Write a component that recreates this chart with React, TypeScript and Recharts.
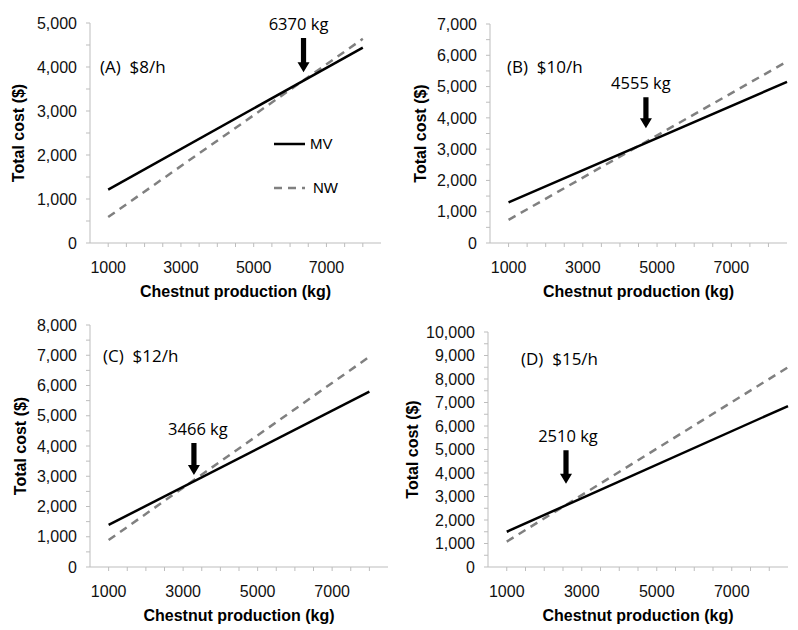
import React from 'react'
import { LineChart, Line, XAxis, YAxis, ReferenceLine, Legend } from 'recharts'

// production (kg) at the two ends of each line, per panel
const xA = [1000, 8000]
const xB = [1000, 8500]
const xC = [1000, 8000]
const xD = [1000, 8500]

// total cost ($) for MV and NW in each wage scenario
const mvA = [1215, 4440]
const nwA = [590, 4640]
const mvB = [1300, 5150]
const nwB = [740, 5800]
const mvC = [1390, 5800]
const nwC = [890, 6950]
const mvD = [1500, 6850]
const nwD = [1080, 8500]

const panelTitles = ['(A)  $8/h', '(B)  $10/h', '(C)  $12/h', '(D)  $15/h']
const yMaxes = [5000, 7000, 8000, 10000]

// break-even annotations: label, arrow x, arrow top / tip (in $)
const crossLabels = ['6370 kg', '4555 kg', '3466 kg', '2510 kg']
const arrowX = [6370, 4700, 3290, 2580]
const arrowTop = [4660, 4660, 4100, 4970]
const arrowTip = [3880, 3670, 3040, 3540]

const xTicks = [1000, 1500, 2000, 2500, 3000, 3500, 4000, 4500, 5000, 5500, 6000, 6500, 7000, 7500, 8000]
const xLabels = [1000, 3000, 5000, 7000]

const sans = '"Liberation Sans", Arial, sans-serif'
const calibriLike = '"Open Sans", "Noto Sans", sans-serif'
const axisGrey = '#bdbdbd'

const halfSteps = (max: number) => {
  const out: number[] = []
  for (let v = 0; v <= max; v += 500) out.push(v)
  return out
}

const layouts = [
  { left: 0, top: 0, width: 400, height: 310, margin: { top: 23, right: 19, left: 0, bottom: 13 }, yWidth: 90, titleOffset: 18, label: { left: 100, top: 57 }, textDx: -5 },
  { left: 400, top: 0, width: 398, height: 310, margin: { top: 24, right: 11, left: 0, bottom: 13 }, yWidth: 90, titleOffset: 20, label: { left: 107, top: 57 }, textDx: -5 },
  { left: 0, top: 310, width: 400, height: 320, margin: { top: 15, right: 12, left: 0, bottom: 9 }, yWidth: 90, titleOffset: 20, label: { left: 103, top: 36 }, textDx: 4 },
  { left: 400, top: 310, width: 398, height: 320, margin: { top: 22, right: 10, left: 0, bottom: 9 }, yWidth: 88, titleOffset: 12, label: { left: 121, top: 39 }, textDx: 2 },
]

const series = [
  [xA, mvA, nwA],
  [xB, mvB, nwB],
  [xC, mvC, nwC],
  [xD, mvD, nwD],
]

function arrowShape(text: string, dx: number) {
  return (p: any) => {
    const x = p.x1
    const y1 = Math.min(p.y1, p.y2)
    const y2 = Math.max(p.y1, p.y2)
    const sw = 2.6
    const hw = 6
    const hh = 10
    const pts = [
      [x - sw, y1], [x + sw, y1], [x + sw, y2 - hh], [x + hw, y2 - hh],
      [x, y2], [x - hw, y2 - hh], [x - sw, y2 - hh],
    ].map((q) => q.join(',')).join(' ')
    return (
      <g>
        <polygon points={pts} fill="#000" />
        <text x={x + dx} y={y1 - 8} textAnchor="middle" fontFamily={calibriLike} fontSize={16.5} fill="#000">
          {text}
        </text>
      </g>
    )
  }
}

const LegendBox = () => (
  <div style={{ fontFamily: sans, fontSize: 15, color: '#000', lineHeight: '20px' }}>
    <div style={{ display: 'flex', alignItems: 'center', height: 20 }}>
      <svg width={31} height={6}>
        <line x1={0} y1={3} x2={31} y2={3} stroke="#000" strokeWidth={2.5} />
      </svg>
      <span style={{ marginLeft: 5 }}>MV</span>
    </div>
    <div style={{ display: 'flex', alignItems: 'center', height: 20, marginTop: 24 }}>
      <svg width={31} height={6}>
        <line x1={0} y1={3} x2={31} y2={3} stroke="#808080" strokeWidth={2.5} strokeDasharray="8 6" />
      </svg>
      <span style={{ marginLeft: 8 }}>NW</span>
    </div>
  </div>
)

function Panel({ idx }: { idx: number }) {
  const lay = layouts[idx]
  const [xs, mv, nw] = series[idx]
  const data = xs.map((x, i) => ({ x, mv: mv[i], nw: nw[i] }))
  const yMax = yMaxes[idx]
  const tickStyle = { fontFamily: sans, fontSize: 16, fill: '#111' }
  const titleStyle = { fontFamily: sans, fontSize: 16, fontWeight: 700, fill: '#000' }

  return (
    <div style={{ position: 'absolute', left: lay.left, top: lay.top, width: lay.width, height: lay.height }}>
      <LineChart width={lay.width} height={lay.height} data={data} margin={lay.margin}>
        <XAxis
          dataKey="x"
          type="number"
          domain={[500, 8500]}
          ticks={xTicks}
          interval={0}
          tickFormatter={(v: number) => (xLabels.includes(v) ? String(v) : '')}
          tick={tickStyle}
          tickSize={4}
          tickMargin={15}
          stroke={axisGrey}
          height={54}
          label={{ value: 'Chestnut production (kg)', position: 'insideBottom', offset: 0, style: titleStyle }}
        />
        <YAxis
          type="number"
          domain={[0, yMax]}
          ticks={halfSteps(yMax)}
          interval={0}
          tickFormatter={(v: number) => (v % 1000 === 0 ? v.toLocaleString('en-US') : '')}
          tick={tickStyle}
          tickSize={4}
          tickMargin={9}
          stroke={axisGrey}
          width={lay.yWidth}
          label={{
            value: 'Total cost ($)',
            angle: -90,
            position: 'insideLeft',
            offset: lay.titleOffset,
            style: { ...titleStyle, textAnchor: 'middle' },
          }}
        />
        <Line dataKey="nw" stroke="#808080" strokeWidth={2.5} strokeDasharray="8 6" dot={false} isAnimationActive={false} />
        <Line dataKey="mv" stroke="#000" strokeWidth={2.5} dot={false} isAnimationActive={false} />
        <ReferenceLine
          segment={[
            { x: arrowX[idx], y: arrowTop[idx] },
            { x: arrowX[idx], y: arrowTip[idx] },
          ]}
          ifOverflow="visible"
          shape={arrowShape(crossLabels[idx], lay.textDx)}
        />
        {idx === 0 && (
          <Legend
            layout="vertical"
            align="center"
            verticalAlign="middle"
            content={<LegendBox />}
            wrapperStyle={{ left: 274, top: 134, width: 80 }}
          />
        )}
      </LineChart>
      <div
        style={{
          position: 'absolute',
          left: lay.label.left,
          top: lay.label.top,
          fontFamily: calibriLike,
          fontSize: 17,
          whiteSpace: 'pre',
          color: '#000',
          lineHeight: '20px',
        }}
      >
        {panelTitles[idx]}
      </div>
    </div>
  )
}

export default function App() {
  return (
    <div style={{ position: 'absolute', left: 0, top: 0, width: 798, height: 630, background: '#fff' }}>
      {[0, 1, 2, 3].map((i) => (
        <Panel key={i} idx={i} />
      ))}
    </div>
  )
}
